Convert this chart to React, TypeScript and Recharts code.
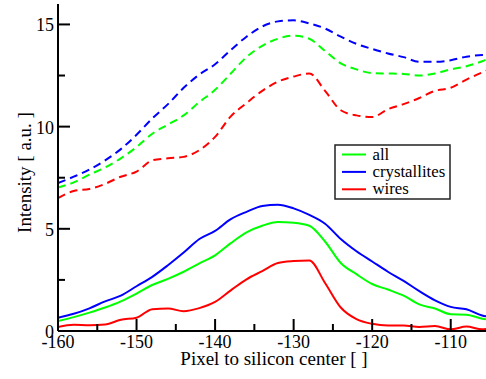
import React from 'react';
import { LineChart, Line, XAxis, YAxis, Legend } from 'recharts';

const xValues = [-160, -158, -156, -154, -152, -150, -148, -146, -144, -142, -140, -138, -136, -134, -132, -130, -128, -126, -124, -122, -120, -118, -116, -114, -112, -110, -108, -106, -105];

const allSolid = [0.49, 0.68, 0.9, 1.15, 1.45, 1.83, 2.25, 2.55, 2.9, 3.31, 3.7, 4.3, 4.83, 5.15, 5.33, 5.3, 5.15, 4.38, 3.33, 2.78, 2.3, 2.03, 1.73, 1.3, 1.1, 0.82, 0.8, 0.6, 0.55];
const crystallitesSolid = [0.65, 0.84, 1.11, 1.45, 1.73, 2.19, 2.65, 3.22, 3.84, 4.5, 4.9, 5.47, 5.83, 6.12, 6.18, 6.0, 5.68, 5.25, 4.5, 3.9, 3.4, 2.9, 2.45, 1.95, 1.5, 1.18, 1.06, 0.76, 0.68];
const wiresSolid = [0.2, 0.3, 0.28, 0.32, 0.55, 0.65, 1.07, 1.1, 0.97, 1.12, 1.42, 1.99, 2.53, 2.93, 3.33, 3.42, 3.45, 2.35, 1.15, 0.58, 0.35, 0.27, 0.27, 0.2, 0.24, 0.08, 0.22, 0.08, 0.15];

const allDashed = [7.02, 7.27, 7.65, 8.0, 8.45, 9.0, 9.65, 10.1, 10.55, 11.2, 11.8, 12.6, 13.4, 13.95, 14.3, 14.45, 14.3, 13.7, 13.1, 12.8, 12.62, 12.6, 12.58, 12.5, 12.6, 12.8, 12.95, 13.2, 13.35];
const crystallitesDashed = [7.24, 7.55, 7.9, 8.35, 8.9, 9.6, 10.4, 11.1, 11.9, 12.55, 13.05, 13.75, 14.4, 14.9, 15.15, 15.2, 15.05, 14.8, 14.4, 14.05, 13.8, 13.58, 13.4, 13.17, 13.17, 13.25, 13.42, 13.5, 13.5];
const wiresDashed = [6.5, 6.85, 6.95, 7.2, 7.55, 7.8, 8.35, 8.45, 8.52, 8.85, 9.5, 10.5, 11.15, 11.75, 12.2, 12.45, 12.6, 11.75, 10.8, 10.55, 10.47, 10.85, 11.1, 11.4, 11.75, 11.9, 12.3, 12.65, 12.8];

const xMajorTicks = [-160, -150, -140, -130, -120, -110];
const xMinorTicks = [-155, -145, -135, -125, -115, -105];
const yMajorTicks = [0, 5, 10, 15];
const yMinorTicks = [2.5, 7.5, 12.5];
const xDomain = [-160, -105];
const yDomain = [0, 16];

const legendNames = ['all', 'crystallites', 'wires'];
const seriesColors = ['#00ff00', '#0000ff', '#ff0000'];
const xLabel = 'Pixel to silicon center [ ]';
const yLabel = 'Intensity [ a.u. ]';

const data = xValues.map((x, i) => ({
  x,
  allSolid: allSolid[i],
  crystallitesSolid: crystallitesSolid[i],
  wiresSolid: wiresSolid[i],
  allDashed: allDashed[i],
  crystallitesDashed: crystallitesDashed[i],
  wiresDashed: wiresDashed[i],
}));

const FONT = "'Liberation Serif'";
const txtStyle = (size: number): React.CSSProperties => ({ fontFamily: FONT, fontSize: size, fill: '#000' });
const xTicksAll = [...xMajorTicks, ...xMinorTicks].sort((a, b) => a - b);
const yTicksAll = [...yMajorTicks, ...yMinorTicks].sort((a, b) => a - b);

const XTickBottom = (props: any) => {
  const { x, y, payload } = props;
  const major = xMajorTicks.includes(payload.value);
  return (
    <g>
      <line x1={x} y1={y} x2={x} y2={y - (major ? 12 : 7)} stroke="#000" strokeWidth={2} />
      {major && (
        <text x={x} y={y + 17} textAnchor="middle" style={txtStyle(18)}>
          {payload.value}
        </text>
      )}
    </g>
  );
};

const XTickTop = (props: any) => {
  const { x, y, payload } = props;
  const major = xMajorTicks.includes(payload.value);
  return <line x1={x} y1={y} x2={x} y2={y + (major ? 12 : 7)} stroke="#000" strokeWidth={2} />;
};

const YTickLeft = (props: any) => {
  const { x, y, payload } = props;
  const major = yMajorTicks.includes(payload.value);
  return (
    <g>
      <line x1={x} y1={y} x2={x + (major ? 12 : 7)} y2={y} stroke="#000" strokeWidth={2} />
      {major && (
        <text x={x - 4} y={y + 7} textAnchor="end" style={txtStyle(18)}>
          {payload.value}
        </text>
      )}
    </g>
  );
};

const YTickRight = (props: any) => {
  const { x, y, payload } = props;
  const major = yMajorTicks.includes(payload.value);
  return <line x1={x} y1={y} x2={x - (major ? 12 : 7)} y2={y} stroke="#000" strokeWidth={2} />;
};

const LegendBox = () => (
  <svg width={118} height={57} style={{ display: 'block', overflow: 'visible' }}>
    <rect x={1} y={1} width={115} height={54} fill="#fff" stroke="#222" strokeWidth={1.5} />
    {legendNames.map((name, i) => (
      <g key={name}>
        <line x1={8} x2={32} y1={10.5 + i * 17.4} y2={10.5 + i * 17.4} stroke={seriesColors[i]} strokeWidth={2} />
        <text x={38.5} y={15.5 + i * 17.4} style={txtStyle(16.8)}>
          {name}
        </text>
      </g>
    ))}
  </svg>
);

const XAxisLabel = (props: any) => {
  const vb = props.viewBox || { x: 58, y: 331, width: 432, height: 48 };
  return (
    <text x={vb.x + vb.width / 2} y={vb.y + 34} textAnchor="middle" style={txtStyle(19)}>
      {xLabel}
    </text>
  );
};

const YAxisLabel = (props: any) => {
  const vb = props.viewBox || { x: 0, y: 4, width: 58, height: 327 };
  const cx = vb.x + 31;
  const cy = vb.y + vb.height / 2 + 5;
  return (
    <text x={cx} y={cy} transform={`rotate(-90 ${cx} ${cy})`} textAnchor="middle" style={txtStyle(19)}>
      {yLabel}
    </text>
  );
};

export default function App() {
  const axisLine = { stroke: '#000', strokeWidth: 2 };
  return (
    <div style={{ position: 'absolute', left: 0, top: 0, width: 486, height: 379, overflow: 'hidden', background: '#fff' }}>
      <LineChart width={492} height={379} data={data} margin={{ top: 4, right: 2, bottom: 0, left: 0 }}>
        <XAxis
          dataKey="x"
          type="number"
          domain={xDomain}
          ticks={xTicksAll}
          interval={0}
          allowDataOverflow
          tickSize={0}
          tickMargin={0}
          tickLine={false}
          axisLine={axisLine}
          tick={<XTickBottom />}
          height={48}
          label={{ content: <XAxisLabel /> }}
        />
        <XAxis
          xAxisId="top"
          orientation="top"
          dataKey="x"
          type="number"
          domain={xDomain}
          ticks={xTicksAll}
          interval={0}
          allowDataOverflow
          tickSize={0}
          tickMargin={0}
          tickLine={false}
          axisLine={axisLine}
          tick={<XTickTop />}
          height={0}
        />
        <YAxis
          type="number"
          domain={yDomain}
          ticks={yTicksAll}
          interval={0}
          allowDataOverflow
          tickSize={0}
          tickMargin={0}
          tickLine={false}
          axisLine={axisLine}
          tick={<YTickLeft />}
          width={58}
          label={{ content: <YAxisLabel /> }}
        />
        <YAxis
          yAxisId="right"
          orientation="right"
          type="number"
          domain={yDomain}
          ticks={yTicksAll}
          interval={0}
          allowDataOverflow
          tickSize={0}
          tickMargin={0}
          tickLine={false}
          axisLine={axisLine}
          tick={<YTickRight />}
          width={0}
        />
        <Legend
          layout="vertical"
          align="center"
          verticalAlign="middle"
          content={<LegendBox />}
          wrapperStyle={{ position: 'absolute', left: 334, top: 144, width: 118, height: 57 }}
        />
        <Line dataKey="allDashed" name="all dashed" type="monotone" stroke={seriesColors[0]} strokeWidth={2} strokeDasharray="8 5" dot={false} legendType="none" isAnimationActive={false} />
        <Line dataKey="crystallitesDashed" name="crystallites dashed" type="monotone" stroke={seriesColors[1]} strokeWidth={2} strokeDasharray="8 5" dot={false} legendType="none" isAnimationActive={false} />
        <Line dataKey="wiresDashed" name="wires dashed" type="monotone" stroke={seriesColors[2]} strokeWidth={2} strokeDasharray="8 5" dot={false} legendType="none" isAnimationActive={false} />
        <Line dataKey="allSolid" name={legendNames[0]} type="monotone" stroke={seriesColors[0]} strokeWidth={2} dot={false} isAnimationActive={false} />
        <Line dataKey="crystallitesSolid" name={legendNames[1]} type="monotone" stroke={seriesColors[1]} strokeWidth={2} dot={false} isAnimationActive={false} />
        <Line dataKey="wiresSolid" name={legendNames[2]} type="monotone" stroke={seriesColors[2]} strokeWidth={2} dot={false} isAnimationActive={false} />
      </LineChart>
    </div>
  );
}
